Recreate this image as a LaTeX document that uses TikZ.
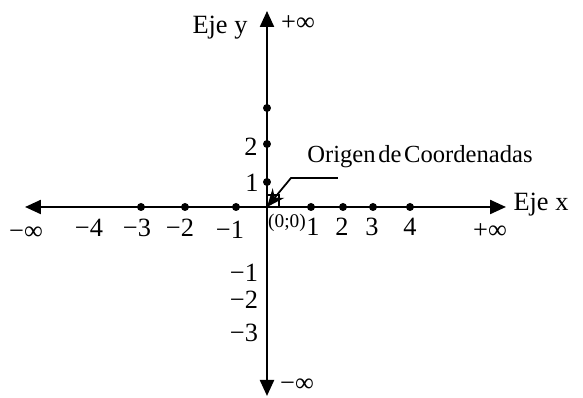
\documentclass[tikz,border=0pt]{standalone}
\usepackage{fontspec}
\setmainfont{Liberation Serif}
\usetikzlibrary{arrows.meta,positioning}
\begin{document}
\begin{tikzpicture}[x=0.02cm,y=-0.02cm,font=\fontsize{15}{17}\selectfont,axis/.style={line width=1.3pt,-{Triangle[length=3.2mm,width=2.8mm]}},dot/.style={circle, fill=black, minimum size=1.6mm, inner sep=0pt},tick/.style={inner sep=0pt},leader/.style={line width=1pt}]
\useasboundingbox (0,0) rectangle (583,398);
\coordinate (O) at (267,207);\coordinate (xl) at (25,207);\coordinate (xr) at (506,207);\coordinate (yt) at (267,11);\coordinate (yb) at (267,396);
\draw[axis] (O) -- (xl);\draw[axis] (O) -- (xr);\draw[axis] (O) -- (yt);\draw[axis] (O) -- (yb);
\node[dot] (xm3) at (141,207) {};\node[dot] (xm2) at (185,207) {};\node[dot] (xm1) at (236,207) {};\node[dot] (xp1) at (311,207) {};\node[dot] (xp2) at (343,207) {};\node[dot] (xp3) at (373,207) {};\node[dot] (xp4) at (410,207) {};
\node[dot] (yp1) at (267,182) {};\node[dot] (yp2) at (267,144) {};\node[dot] (yp3) at (267,108) {};
\node[tick] (lxm4) at (89,228) {−4};\node[tick] (lxm3) at (137,228) {−3};\node[tick] (lxm2) at (180,228) {−2};\node[tick] (lxm1) at (230,230) {−1};
\node[tick] (lxp1) at (313,227) {1};\node[tick] (lxp2) at (342,227) {2};\node[tick] (lxp3) at (372,227) {3};\node[tick] (lxp4) at (410,227) {4};
\node[tick, font=\fontsize{11}{12}\selectfont] (lO) at (287,223) {(0;0)};
\node[tick] (lyp1) at (252,183) {1};\node[tick] (lyp2) at (251,147) {2};
\node[tick] (lym1) at (244,273) {−1};\node[tick] (lym2) at (244,300) {−2};\node[tick] (lym3) at (244,333) {−3};
\node[tick] (minf) at (26,233) {−∞};\node[tick] (pinf) at (490,231) {+∞};\node[tick] (tinf) at (298,23) {+∞};\node[tick] (binf) at (297,385) {−∞};
\node[tick] (ejex) at (541,205) {Eje x};\node[tick] (ejey) at (220,28) {Eje y};
\node[tick, font=\fontsize{14}{16}\selectfont] (orig) at (420,157) {Origen\hspace{1.5pt}de\hspace{1.5pt}Coordenadas};
\draw[leader] (O) rectangle (279,195);
\coordinate (k1) at (338,178);\coordinate (k2) at (291,178);
\draw[leader, -{Stealth[length=3.6mm,width=3mm]}] (k1) -- (k2) -- (O);
\end{tikzpicture}
\end{document}
